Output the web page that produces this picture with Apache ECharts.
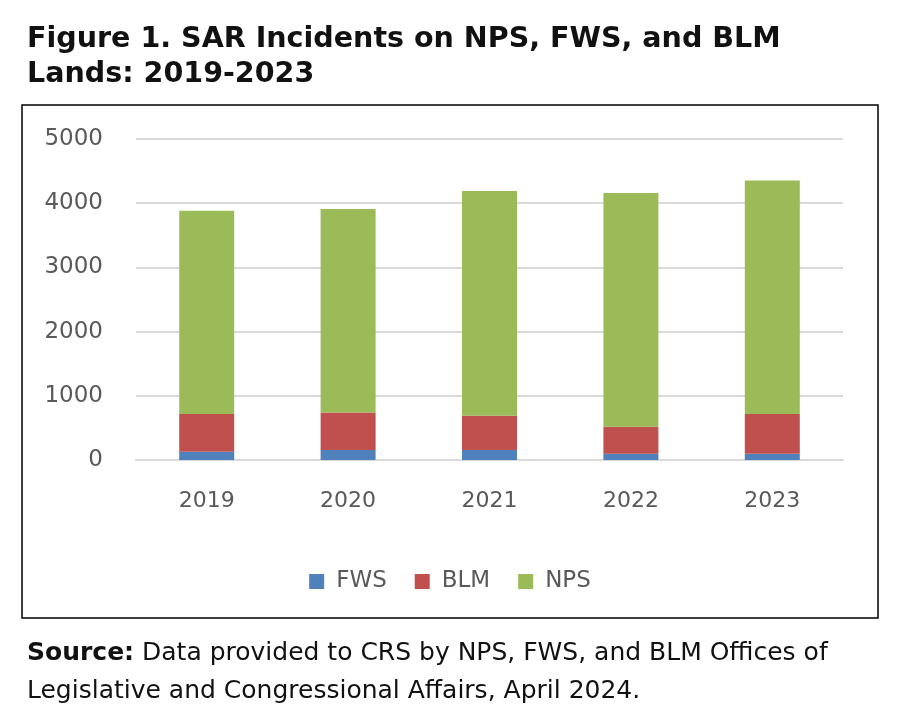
<!DOCTYPE html>
<html>
<head>
<meta charset="utf-8">
<script src="https://cdn.jsdelivr.net/npm/echarts@6/dist/echarts.min.js"></script>
<style>
html,body{margin:0;padding:0;background:#fff;}
#c{width:900px;height:712px;}
</style>
</head>
<body>
<div id="c"></div>
<script>
const years = ['2019', '2020', '2021', '2022', '2023'];
const fws = [129, 155, 155, 98, 98];
const blm = [586, 586, 535, 420, 617];
const nps = [3168, 3169, 3500, 3642, 3640];
const yTicks = [0, 1000, 2000, 3000, 4000, 5000];
const titleLines = ['Figure 1. SAR Incidents on NPS, FWS, and BLM', 'Lands: 2019-2023'];
const sourceLabel = 'Source:';
const sourceLines = [' Data provided to CRS by NPS, FWS, and BLM Offices of', 'Legislative and Congressional Affairs, April 2024.'];

const textFont = '"DejaVu Sans", sans-serif';
const axisFont = '"DejaVu Sans", sans-serif';

// fit font size so the first line matches the reference width
const ctx = document.createElement('canvas').getContext('2d');
function fitSize(parts, target, base) {
  let w = 0;
  parts.forEach(p => { ctx.font = p.weight + ' ' + base + 'px ' + textFont; w += ctx.measureText(p.text).width; });
  return base * target / w;
}
const titleSize = Math.min(29, fitSize([{weight: 'bold', text: titleLines[0]}], 754, 20));
const srcSize = Math.min(25, fitSize([{weight: 'bold', text: sourceLabel}, {weight: 'normal', text: sourceLines[0]}], 808, 20));

const chart = echarts.init(document.getElementById('c'), null, {renderer: 'canvas'});

chart.setOption({
  animation: false,
  backgroundColor: '#fff',
  title: [
    {
      text: titleLines.join('\n'),
      left: 22, top: 17,
      textStyle: {fontFamily: textFont, fontWeight: 'bold', fontSize: titleSize, color: '#111', lineHeight: 35}
    },
    {
      text: '{b|' + sourceLabel + '}' + sourceLines[0] + '\n' + sourceLines[1],
      left: 22, top: 629,
      textStyle: {
        fontFamily: textFont, fontWeight: 'normal', fontSize: srcSize, color: '#111', lineHeight: 38,
        rich: {b: {fontFamily: textFont, fontWeight: 'bold', fontSize: srcSize, color: '#111', lineHeight: 38}}
      }
    }
  ],
  graphic: [
    {type: 'rect', shape: {x: 22, y: 105, width: 856, height: 513},
     style: {fill: 'none', stroke: '#000', lineWidth: 1.5}}
  ],
  legend: {
    data: ['FWS', 'BLM', 'NPS'],
    left: 'center', top: 565,
    itemWidth: 15, itemHeight: 15, itemGap: 28,
    icon: 'rect',
    textStyle: {fontFamily: axisFont, fontSize: 23, color: '#595959', padding: [0, 0, 0, 7]}
  },
  grid: {left: 136, right: 57, top: 139, bottom: 252},
  xAxis: {
    type: 'category',
    data: years,
    axisLine: {show: true, lineStyle: {color: '#d9d9d9', width: 2}},
    axisTick: {show: false},
    axisLabel: {fontFamily: axisFont, fontSize: 22, color: '#595959', margin: 30}
  },
  yAxis: {
    type: 'value',
    min: 0, max: 5000, interval: 1000,
    axisLine: {show: false},
    axisTick: {show: false},
    splitLine: {lineStyle: {color: '#d9d9d9', width: 2}},
    axisLabel: {fontFamily: axisFont, fontSize: 23, color: '#595959', margin: 33,
      formatter: v => yTicks.includes(v) ? String(v) : ''}
  },
  series: [
    {name: 'FWS', type: 'bar', stack: 'all', data: fws, barWidth: 55, itemStyle: {color: '#4F81BD'}},
    {name: 'BLM', type: 'bar', stack: 'all', data: blm, barWidth: 55, itemStyle: {color: '#C0504D'}},
    {name: 'NPS', type: 'bar', stack: 'all', data: nps, barWidth: 55, itemStyle: {color: '#9BBB59'}}
  ]
});
</script>
</body>
</html>
